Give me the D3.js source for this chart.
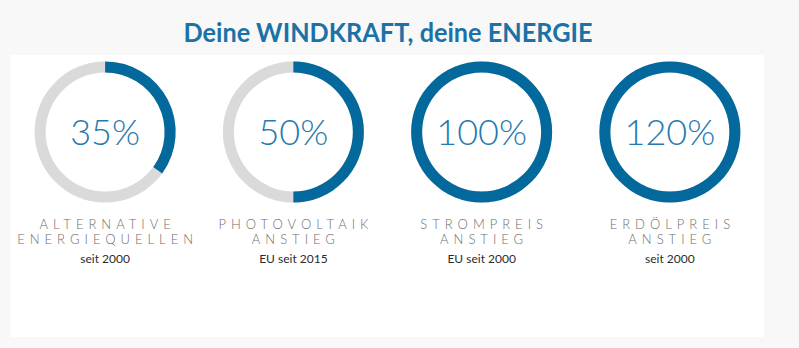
<!DOCTYPE html>
<html>
<head>
<meta charset="utf-8">
<script src="https://cdn.jsdelivr.net/npm/d3@7"></script>
<style>
  html, body { margin: 0; padding: 0; background: #f8f8f8; }
  svg { display: block; }
</style>
</head>
<body>
<svg id="chart" width="799" height="348"></svg>
<script>
// Increase figures shown as progress rings
const values = [35, 50, 100, 120];
const titleLines = [
  ["ALTERNATIVE", "ENERGIEQUELLEN"],
  ["PHOTOVOLTAIK", "ANSTIEG"],
  ["STROMPREIS", "ANSTIEG"],
  ["ERDÖLPREIS", "ANSTIEG"]
];
const subtitles = ["seit 2000", "EU seit 2015", "EU seit 2000", "seit 2000"];
const heading = "Deine WINDKRAFT, deine ENERGIE";

const svg = d3.select("#chart");
const W = 799, H = 348;

const panel = { x: 11, y: 55, w: 753, h: 282 };

svg.append("rect").attr("width", W).attr("height", H).attr("fill", "#f8f8f8");
svg.append("rect")
  .attr("x", panel.x).attr("y", panel.y)
  .attr("width", panel.w).attr("height", panel.h)
  .attr("fill", "#ffffff");

svg.append("text")
  .attr("x", 388).attr("y", 42)
  .attr("text-anchor", "middle")
  .attr("font-family", "Lato, sans-serif")
  .attr("font-weight", 700)
  .attr("font-size", 26)
  .attr("textLength", 409)
  .attr("lengthAdjust", "spacingAndGlyphs")
  .attr("fill", "#1a72a6")
  .text(heading);

const x = d3.scaleBand()
  .domain(d3.range(values.length))
  .range([panel.x, panel.x + panel.w]);

// ring share: values above 100 fill the ring completely
const share = d3.scaleLinear().domain([0, 100]).range([0, 2 * Math.PI]).clamp(true);

const outerR = 70.5, innerR = 59.5, cy = 132;
const arc = d3.arc().innerRadius(innerR).outerRadius(outerR);

const g = svg.selectAll("g.ring")
  .data(values)
  .join("g")
  .attr("class", "ring")
  .attr("transform", (d, i) => `translate(${x(i) + x.bandwidth() / 2},${cy})`);

g.append("path")
  .attr("d", arc({ startAngle: 0, endAngle: 2 * Math.PI }))
  .attr("fill", "#dadada");

g.append("path")
  .attr("d", d => arc({ startAngle: 0, endAngle: share(d) }))
  .attr("fill", "#03699c");

g.append("text")
  .attr("y", 13)
  .attr("text-anchor", "middle")
  .attr("font-family", "Lato, sans-serif")
  .attr("font-weight", 300)
  .attr("font-size", 36)
  .attr("fill", "#2679b0")
  .text(d => d + "%");

const ls = 5;
g.each(function (d, i) {
  const sel = d3.select(this);
  titleLines[i].forEach((line, j) => {
    sel.append("text")
      .attr("x", ls / 2)
      .attr("y", 97 + j * 15)
      .attr("text-anchor", "middle")
      .attr("font-family", "Lato, sans-serif")
      .attr("font-weight", 300)
      .attr("font-size", 13)
      .attr("letter-spacing", ls)
      .attr("fill", "#6e6e6e")
      .text(line);
  });
  sel.append("text")
    .attr("y", 131)
    .attr("text-anchor", "middle")
    .attr("font-family", "Lato, sans-serif")
    .attr("font-size", 12)
    .attr("fill", "#2b2b2b")
    .text(subtitles[i]);
});
</script>
</body>
</html>
